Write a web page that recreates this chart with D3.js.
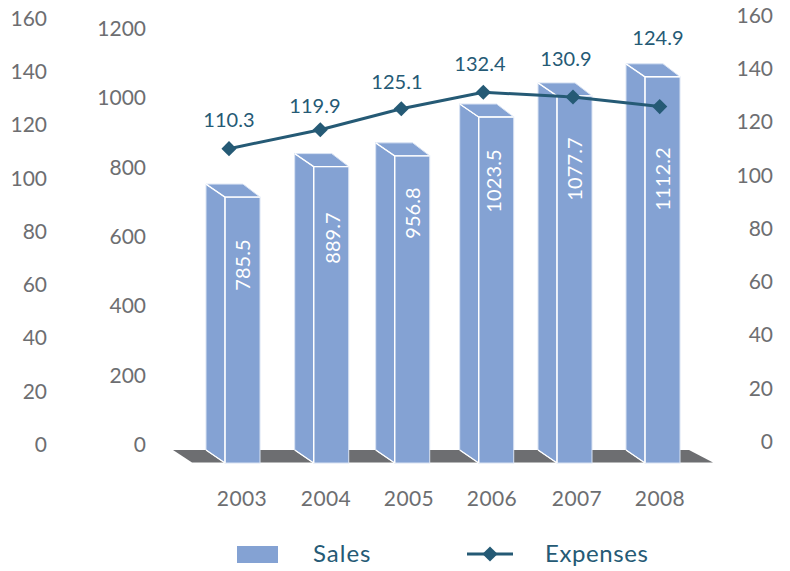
<!DOCTYPE html>
<html><head><meta charset="utf-8">
<script src="https://cdn.jsdelivr.net/npm/d3@7/dist/d3.min.js"></script>
<style>html,body{margin:0;background:#fff}svg{display:block}text{font-family:Lato,sans-serif}</style>
</head><body><svg id="c" width="790" height="571"></svg>
<script>
// data
const years = ["2003","2004","2005","2006","2007","2008"];
const salesLabels = ["785.5","889.7","956.8","1023.5","1077.7","1112.2"];
const expenseLabels = ["110.3","119.9","125.1","132.4","130.9","124.9"];
// levels as actually drawn in the picture, read against the axes
const salesLevels = [767, 855, 886, 998, 1059, 1114];
const expenseLevels = [109.8, 116.9, 124.8, 131, 129.2, 125.6];
const salesTicks = [0,200,400,600,800,1000,1200];
const expenseTicks = [0,20,40,60,80,100,120,140,160];

// layout
const svg = d3.select("#c");
const GREY="#6d6e71", TEAL="#255a75", BAR="#84a2d3", EDGE="#d9e3f3";
const xBar = d3.scaleOrdinal(years,[225,313.7,394.7,478.7,557,645]);
const xYear = d3.scaleOrdinal(years,[242,326,409,492,577,660]);
const xLine = d3.scaleOrdinal(years,[229,320.3,401.3,483.3,573,659.7]);
const xLab = d3.scaleOrdinal(years,[229,315,397,480,566,658]);
const yLab = d3.scaleOrdinal(years,[119,105,81,63,58,37]);
const xRot = d3.scaleOrdinal(years,[242,332,412,493,574,662]);
const yRot = d3.scaleOrdinal(years,[265,238,213,181,169,179]);
const yBar = d3.scaleLinear([0,1200],[463,47]);
const ySales = d3.scaleLinear([0,1200],[444,28]);
const yExpL = d3.scaleLinear([0,160],[444,18]);
const yExpR = d3.scaleLinear([0,160],[441,15]);
const W=35, DX=-19, DY=-13, TOPR=-17;

// floor
svg.append("path").attr("d",d3.line()([[173,450],[689,450],[713,462.5],[192,462.5]])).attr("fill",GREY);

// bars
const bars = svg.append("g").selectAll("g").data(years.map((y,i)=>({y,v:salesLevels[i],l:salesLabels[i]}))).join("g");
const pl = d3.line();
const base = yBar(0);
bars.append("path").attr("fill",BAR).attr("stroke",EDGE).attr("stroke-width",1)
  .attr("d",d=>{const x=xBar(d.y),t=yBar(d.v);return pl([[x+DX,t+DY],[x,t],[x,base],[x+DX,base+DY]])+"Z";});
bars.append("path").attr("fill",BAR).attr("stroke",EDGE).attr("stroke-width",1)
  .attr("d",d=>{const x=xBar(d.y),t=yBar(d.v);return pl([[x+DX,t+DY],[x+W+TOPR,t+DY],[x+W,t],[x,t]])+"Z";});
bars.append("rect").attr("fill",BAR).attr("stroke",EDGE).attr("stroke-width",1)
  .attr("x",d=>xBar(d.y)).attr("y",d=>yBar(d.v)).attr("width",W).attr("height",d=>base-yBar(d.v));
bars.append("path").attr("fill","none").attr("stroke","#fff").attr("stroke-width",1.4)
  .attr("d",d=>{const x=xBar(d.y),t=yBar(d.v);return pl([[x+DX,t+DY],[x,t],[x,base]])+pl([[x,t],[x+W,t]])+pl([[x,base],[x+DX,base+DY]]);});
bars.append("text").text(d=>d.l).attr("fill","#fff").attr("font-size",20).attr("letter-spacing",0.1)
  .attr("text-anchor","middle").attr("dominant-baseline","central")
  .attr("transform",d=>`translate(${xRot(d.y)},${yRot(d.y)}) rotate(-90)`);

// line
const pts = years.map((y,i)=>[xLine(y),yExpR(expenseLevels[i])]);
svg.append("path").attr("d",d3.line()(pts)).attr("fill","none").attr("stroke",TEAL).attr("stroke-width",3);
svg.append("g").selectAll("path").data(pts).join("path")
  .attr("d",d3.symbol(d3.symbolSquare,115)).attr("fill",TEAL)
  .attr("transform",d=>`translate(${d[0]},${d[1]}) rotate(45)`);
svg.append("g").selectAll("text").data(years).join("text")
  .text((y,i)=>expenseLabels[i]).attr("x",y=>xLab(y)).attr("y",y=>yLab(y))
  .attr("text-anchor","middle").attr("dominant-baseline","central")
  .attr("font-size",20).attr("letter-spacing",0.1).attr("fill",TEAL);

// axes
function axis(scale,ticks,x){
  const g = svg.append("g").attr("transform",`translate(${x},0)`)
    .call(d3.axisLeft(scale).tickValues(ticks).tickFormat(d3.format("d")).tickSize(0).tickPadding(0));
  g.select(".domain").remove();
  g.selectAll("text").attr("font-size",21).attr("fill",GREY).attr("style","font-family:Lato,sans-serif").attr("dy","0.35em");
}
axis(yExpL,expenseTicks,47);
axis(ySales,salesTicks,146);
axis(yExpR,expenseTicks,773);

// years
svg.append("g").selectAll("text").data(years).join("text").text(d=>d)
  .attr("x",d=>xYear(d)).attr("y",497).attr("text-anchor","middle").attr("dominant-baseline","central")
  .attr("font-size",21).attr("letter-spacing",0.4).attr("fill",GREY);

// legend
svg.append("rect").attr("x",237).attr("y",546).attr("width",41).attr("height",17).attr("fill",BAR);
svg.append("text").text("Sales").attr("x",313).attr("y",552).attr("dominant-baseline","central")
  .attr("font-size",24).attr("letter-spacing",1).attr("fill",TEAL);
svg.append("path").attr("d",d3.line()([[467,554],[513,554]])).attr("stroke",TEAL).attr("stroke-width",3);
svg.append("path").attr("d",d3.symbol(d3.symbolSquare,115)).attr("fill",TEAL).attr("transform","translate(490,554) rotate(45)");
svg.append("text").text("Expenses").attr("x",545).attr("y",552).attr("dominant-baseline","central")
  .attr("font-size",24).attr("letter-spacing",0.6).attr("fill",TEAL);
</script></body></html>
